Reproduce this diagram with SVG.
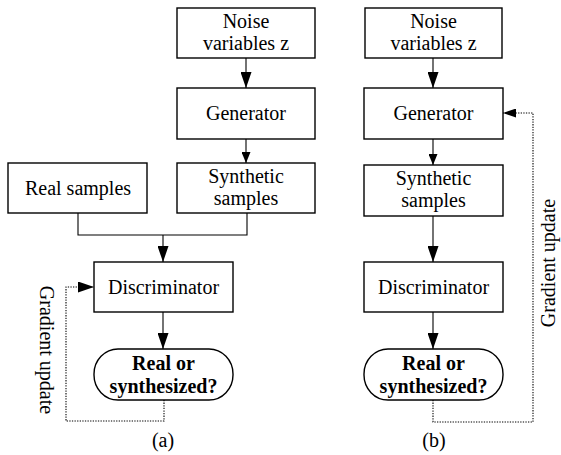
<svg xmlns="http://www.w3.org/2000/svg" width="561" height="455" viewBox="0 0 561 455">
<style>
.box{fill:#fff;stroke:#000;stroke-width:1.4}
.t{font-family:"Liberation Serif","Times New Roman",serif;font-size:20px;fill:#000;text-anchor:middle}
.b{font-weight:bold}
.ln{fill:none;stroke:#000;stroke-width:1.1}
.dot{fill:none;stroke:#000;stroke-width:1.1;stroke-dasharray:1.3,1.3}
</style>
<defs>
<marker id="big" markerUnits="userSpaceOnUse" markerWidth="16" markerHeight="11" refX="16" refY="5.5" orient="auto"><path d="M0,0 L16,5.5 L0,11 z" fill="#000"/></marker>
<marker id="sm" markerUnits="userSpaceOnUse" markerWidth="11" markerHeight="9" refX="11" refY="4.5" orient="auto"><path d="M0,0 L11,4.5 L0,9 z" fill="#000"/></marker>
<marker id="md" markerUnits="userSpaceOnUse" markerWidth="13" markerHeight="9" refX="13" refY="4.5" orient="auto"><path d="M0,0 L13,4.5 L0,9 z" fill="#000"/></marker>
</defs>
<rect width="561" height="455" fill="#fff"/>
<g id="connectors">
<path class="ln" d="M246,58 V88" marker-end="url(#big)"/>
<path class="ln" d="M246,139 V163" marker-end="url(#sm)"/>
<path class="ln" d="M78,213 V235 H247 V213"/>
<path class="ln" d="M163,235 V262" marker-end="url(#big)"/>
<path class="ln" d="M163,312 V349" marker-end="url(#big)"/>
<path class="dot" d="M164,400 V421 H66 V287 H94" marker-end="url(#big)"/>
<path class="ln" d="M433,58 V88" marker-end="url(#big)"/>
<path class="ln" d="M433,139 V165" marker-end="url(#sm)"/>
<path class="ln" d="M433,216 V262" marker-end="url(#big)"/>
<path class="ln" d="M433,312 V349" marker-end="url(#big)"/>
<path class="dot" d="M433,400 V422 H533 V113 H503" marker-end="url(#md)"/>
</g>
<g id="a-noise"><rect class="box" x="177" y="8" width="138" height="50"/><text class="t" x="246" y="28">Noise</text><text class="t" x="246" y="50">variables z</text></g>
<g id="a-generator"><rect class="box" x="177" y="88" width="138" height="51"/><text class="t" x="246" y="120">Generator</text></g>
<g id="a-real"><rect class="box" x="8" y="163" width="139" height="50"/><text class="t" x="78" y="195">Real samples</text></g>
<g id="a-synthetic"><rect class="box" x="177" y="163" width="138" height="50"/><text class="t" x="246" y="183">Synthetic</text><text class="t" x="246" y="205">samples</text></g>
<g id="a-discriminator"><rect class="box" x="94" y="262" width="139" height="50"/><text class="t" x="163.5" y="294">Discriminator</text></g>
<g id="a-output"><rect class="box" x="94" y="349" width="139" height="51" rx="24" ry="25"/><text class="t b" x="163.5" y="370">Real or</text><text class="t b" x="163.5" y="393">synthesized?</text></g>
<g id="a-gradient-label"><text class="t" transform="translate(40,350) rotate(90)">Gradient update</text></g>
<g id="a-caption"><text class="t" x="163" y="447">(a)</text></g>
<g id="b-noise"><rect class="box" x="365" y="8" width="137" height="50"/><text class="t" x="433.5" y="28">Noise</text><text class="t" x="433.5" y="50">variables z</text></g>
<g id="b-generator"><rect class="box" x="364" y="88" width="139" height="51"/><text class="t" x="433.5" y="120">Generator</text></g>
<g id="b-synthetic"><rect class="box" x="364" y="165" width="139" height="51"/><text class="t" x="433.5" y="185">Synthetic</text><text class="t" x="433.5" y="207">samples</text></g>
<g id="b-discriminator"><rect class="box" x="364" y="262" width="139" height="50"/><text class="t" x="433.5" y="294">Discriminator</text></g>
<g id="b-output"><rect class="box" x="364" y="349" width="139" height="51" rx="24" ry="25"/><text class="t b" x="433.5" y="370">Real or</text><text class="t b" x="433.5" y="393">synthesized?</text></g>
<g id="b-gradient-label"><text class="t" transform="translate(555,263) rotate(-90)">Gradient update</text></g>
<g id="b-caption"><text class="t" x="434" y="447">(b)</text></g>
</svg>
